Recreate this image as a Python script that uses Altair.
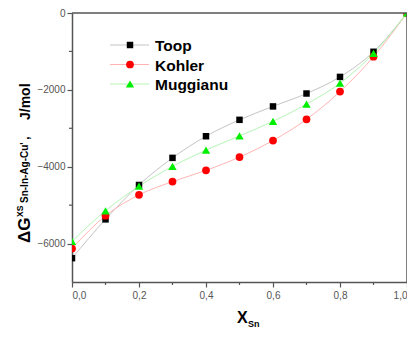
import altair as alt
import pandas as pd

x_vals = [0.0, 0.1, 0.2, 0.3, 0.4, 0.5, 0.6, 0.7, 0.8, 0.9, 1.0]
toop = [-6380, -5370, -4475, -3770, -3207, -2780, -2431, -2095, -1663, -1009, 0]
kohler = [-6129, -5275, -4732, -4388, -4095, -3750, -3318, -2767, -2043, -1138, 0]
muggianu = [-5940, -5146, -4508, -3991, -3569, -3198, -2819, -2371, -1828, -1052, 0]

x_major = [0.0, 0.2, 0.4, 0.6, 0.8, 1.0]
x_minor = [0.1, 0.3, 0.5, 0.7, 0.9]
y_major = [-6000, -4000, -2000, 0]
y_minor = [-5000, -3000, -1000]

series_names = ["Toop", "Kohler", "Muggianu"]
series_vals = [toop, kohler, muggianu]
marker_colors = ["#000000", "#ff0000", "#00ee00"]
line_colors = ["#c4c4c4", "#ffb4b4", "#b4f5b4"]
shapes = ["square", "circle", "triangle-up"]
sizes = [42, 60, 70]

FONT = "Liberation Sans"
W, H = 335, 269
TOP = 5
AX = "#555555"

xscale = alt.Scale(domain=[0, 1], nice=False)
yscale = alt.Scale(domain=[-7000, 0], nice=False)

x_axis = alt.Axis(
    values=x_major,
    labelExpr="replace(format(datum.value, '.1f'), '.', ',')",
    tickSize=5, title=None, grid=False, labelPadding=3, labelOverlap=False,
)
y_axis = alt.Axis(
    values=y_major, format="d",
    tickSize=5, title=None, grid=False, labelPadding=2, labelOverlap=False,
)

layers = []
for name, vals, lc in zip(series_names, series_vals, line_colors):
    df = pd.DataFrame({"x": x_vals, "v": vals})
    layers.append(
        alt.Chart(df).mark_line(interpolate="monotone", strokeWidth=1, clip=True, color=lc)
        .encode(x=alt.X("x:Q", scale=xscale, axis=x_axis), y=alt.Y("v:Q", scale=yscale, axis=y_axis))
    )
for name, vals, mc, sh, sz in zip(series_names, series_vals, marker_colors, shapes, sizes):
    df = pd.DataFrame({"x": x_vals, "v": vals})
    layers.append(
        alt.Chart(df).mark_point(filled=True, shape=sh, size=sz, color=mc, opacity=1, clip=True)
        .encode(x=alt.X("x:Q", scale=xscale), y=alt.Y("v:Q", scale=yscale))
    )

one = pd.DataFrame({"a": [0]})

# frame (top and right)
layers.append(alt.Chart(one).mark_rule(color=AX, strokeWidth=1.5)
              .encode(x=alt.datum(0, scale=xscale), x2=alt.datum(1), y=alt.datum(0, scale=yscale)))
layers.append(alt.Chart(one).mark_rule(color=AX, strokeWidth=1.5)
              .encode(x=alt.datum(1, scale=xscale), y=alt.datum(-7000, scale=yscale), y2=alt.datum(0)))

# minor ticks
layers.append(alt.Chart(pd.DataFrame({"x": x_minor})).mark_rule(color=AX, strokeWidth=1.2)
              .encode(x=alt.X("x:Q", scale=xscale), y=alt.value(H), y2=alt.value(H + 3)))
layers.append(alt.Chart(pd.DataFrame({"v": y_minor})).mark_rule(color=AX, strokeWidth=1.2)
              .encode(y=alt.Y("v:Q", scale=yscale), x=alt.value(-3), x2=alt.value(0)))

# legend
for i, (name, lc, mc, sh, sz) in enumerate(zip(series_names, line_colors, marker_colors, shapes, sizes)):
    ly = 32 + i * 19.5
    layers.append(alt.Chart(one).mark_rule(color=lc, strokeWidth=1)
                  .encode(x=alt.value(38), x2=alt.value(77), y=alt.value(ly)))
    layers.append(alt.Chart(one).mark_point(filled=True, shape=sh, size=sz, color=mc, opacity=1)
                  .encode(x=alt.value(58), y=alt.value(ly)))
    layers.append(alt.Chart(one).mark_text(text=name, font=FONT, fontSize=15.5, fontWeight="bold",
                                           align="left", baseline="middle", color="#000")
                  .encode(x=alt.value(83), y=alt.value(ly + 1)))

# y title pieces (rotated)
def rtext(t, x, y, size, color="#000"):
    return alt.Chart(one).mark_text(text=t, font=FONT, fontSize=size, fontWeight="bold", angle=270,
                                    align="left", baseline="alphabetic", color=color).encode(
        x=alt.value(x), y=alt.value(y))

layers.append(rtext("ΔG", -42, 230, 17))
layers.append(rtext("XS", -49, 204, 8.5))
layers.append(rtext("Sn-In-Ag-Cu'", -44, 190, 10))
layers.append(rtext(",", -43, 127, 13))
layers.append(rtext("J/mol", -42, 107, 14))

# x title
layers.append(alt.Chart(one).mark_text(text="X", font=FONT, fontSize=16, fontWeight="bold",
                                       align="left", baseline="alphabetic", color="#000")
              .encode(x=alt.value(165), y=alt.value(310)))
layers.append(alt.Chart(one).mark_text(text="Sn", font=FONT, fontSize=9, fontWeight="bold",
                                       align="left", baseline="alphabetic", color="#000")
              .encode(x=alt.value(176), y=alt.value(314)))

chart = alt.layer(*layers).properties(
    width=W, height=H,
    background="white",
    autosize=alt.AutoSizeParams(type="none"),
    padding={"left": 64, "top": TOP, "right": 0, "bottom": 321 - TOP - H},
).configure_view(stroke=None).configure_axis(
    domainColor=AX, domainWidth=1.5, tickColor=AX, tickWidth=1.2,
    labelFont=FONT, labelFontSize=10, labelColor=AX,
)

chart.save("out.html", embed_options={"renderer": "svg", "actions": False})
